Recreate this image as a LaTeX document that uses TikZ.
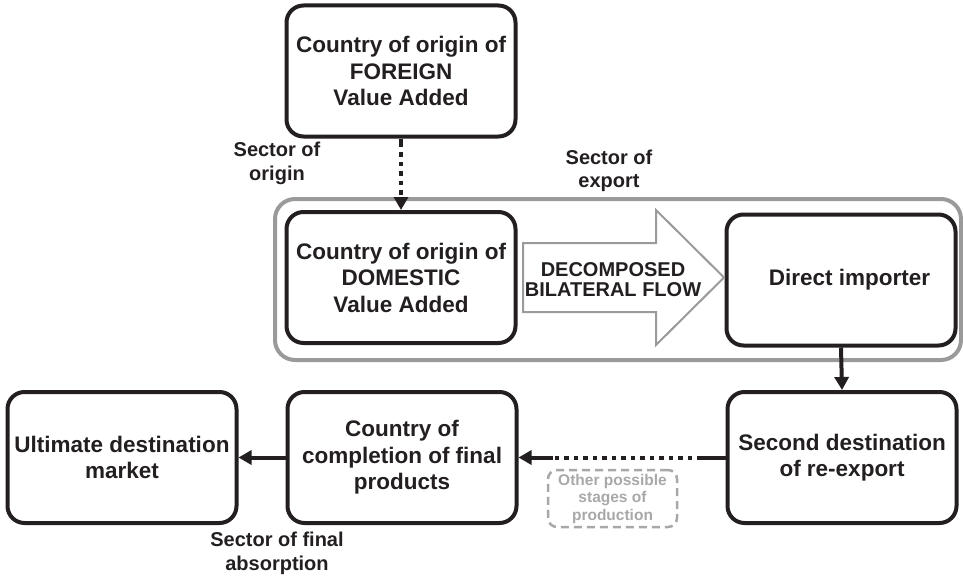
\documentclass[tikz,border=0pt]{standalone}
\usepackage{fontspec}
\setmainfont{Liberation Sans}
\usetikzlibrary{arrows.meta}
\definecolor{ink}{HTML}{231F20}
\definecolor{framegray}{HTML}{9A9A9A}
\definecolor{softgray}{HTML}{A8A8A8}
\newcommand\dfbox{\fontsize{22.5}{26.5}\selectfont\bfseries}
\newcommand\dflab{\fontsize{20}{23.5}\selectfont\bfseries}
\newcommand\dfflow{\fontsize{20}{19.5}\selectfont\bfseries}
\newcommand\dfsmall{\fontsize{15.5}{17.5}\selectfont\bfseries}
\begin{document}
\begin{tikzpicture}[x=1pt,y=-1pt,
  box/.style={draw=ink, line width=4pt, rounded corners=17pt, minimum width=229pt, minimum height=131pt, align=center, font=\dfbox, text=ink, inner sep=0pt},
  lab/.style={align=center, font=\dflab, text=ink, inner sep=0pt},
  conn/.style={draw=ink, line width=4pt},
  tipped/.style={-{Triangle[length=13pt,width=14pt]}},
  dotline/.style={dash pattern=on 4.5pt off 5pt, dash phase=4.5pt},
]
\useasboundingbox (0,0) rectangle (963,578);

% gray frame around the bilateral flow
\draw[framegray, line width=4pt, rounded corners=20pt] (275,199) rectangle (961,360);

% boxes
\node[box] (for) at (401,71) {Country of origin of\\FOREIGN\\Value Added};
\node[box] (dom) at (401,277.5) {Country of origin of\\DOMESTIC\\Value Added};
\node[box] (dir) at (841,280) {\hspace*{17pt}Direct importer};
\node[box] (sec) at (842,457.5) {Second destination\\of re-export};
\node[box] (comp) at (402,457.5) {Country of\\completion of final\\products};
\node[box] (ult) at (122,457.5) {Ultimate destination\\market};

% big decomposed-flow arrow
\draw[framegray, line width=2pt, line join=miter] (523,243) -- (656,243) -- (656,210) -- (724,277.5) -- (656,345) -- (656,312) -- (523,312) -- cycle;
\node[font=\dfflow, align=center, text=ink, inner sep=0pt] (flow) at (613,279.5) {DECOMPOSED\\BILATERAL FLOW};

% labels
\node[lab] (so) at (277,163.5) {Sector of\\origin};
\node[lab] (se) at (609,171) {Sector of\\export};
\node[lab] (sf) at (277,553.5) {Sector of final\\absorption};

% other stages box
\node[draw=softgray, line width=2.5pt, dash pattern=on 8pt off 5pt, rounded corners=9pt, minimum width=129pt, minimum height=57pt, font=\dfsmall, text=softgray, align=center, inner sep=0pt] (other) at (612.5,498.5) {Other possible\\stages of\\production};

% connectors
\coordinate (o1) at (401,147);
\draw[conn] (for.south) -- (o1);
\draw[conn, dotline, tipped] (o1) -- (dom.north);

\draw[conn, tipped] (dir.south) -- (sec.north);

\coordinate (h1) at (697,457.5);
\coordinate (h2) at (553,457.5);
\draw[conn] (sec.west) -- (h1);
\draw[conn, dotline] (h1) -- (h2);
\draw[conn, tipped] (h2) -- (comp.east);

\draw[conn, tipped] (comp.west) -- (ult.east);
\end{tikzpicture}
\end{document}
